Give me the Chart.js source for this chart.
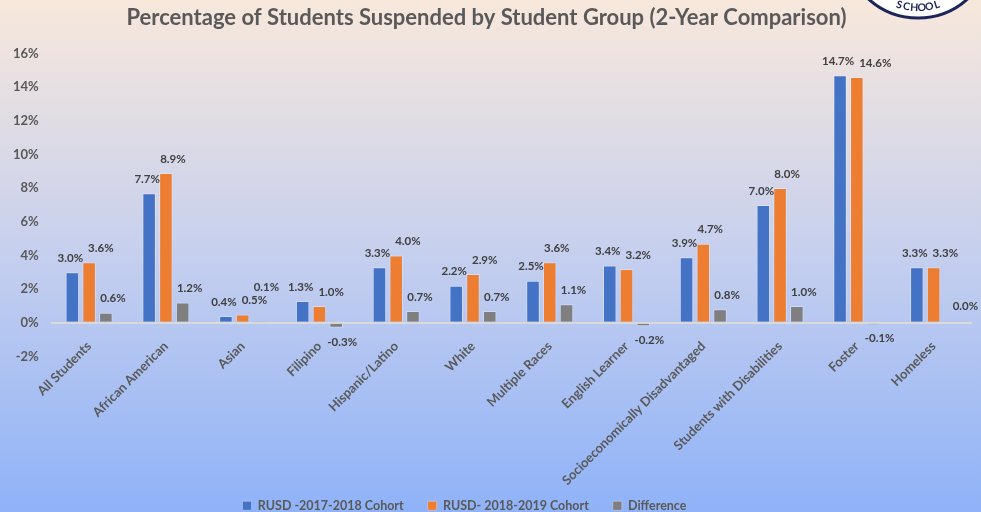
<!DOCTYPE html>
<html>
<head>
<meta charset="utf-8">
<script src="https://cdn.jsdelivr.net/npm/chart.js@4.4.1/dist/chart.umd.min.js"></script>
<style>
  html, body { margin: 0; padding: 0; }
  #wrap { width: 981px; height: 512px; position: relative; }
</style>
</head>
<body>
<div id="wrap"><canvas id="c"></canvas></div>
<script>
const titleText = 'Percentage of Students Suspended by Student Group (2-Year Comparison)';
const categories = ['All Students', 'African American', 'Asian', 'Filipino', 'Hispanic/Latino', 'White',
  'Multiple Races', 'English Learner', 'Socioeconomically Disadvantaged', 'Students with Disabilities',
  'Foster', 'Homeless'];
const seriesNames = ['RUSD -2017-2018 Cohort', 'RUSD- 2018-2019 Cohort', 'Difference'];
const cohort1718 = [3.0, 7.7, 0.4, 1.3, 3.3, 2.2, 2.5, 3.4, 3.9, 7.0, 14.7, 3.3];
const cohort1819 = [3.6, 8.9, 0.5, 1.0, 4.0, 2.9, 3.6, 3.2, 4.7, 8.0, 14.6, 3.3];
const difference = [0.6, 1.2, 0.1, -0.3, 0.7, 0.7, 1.1, -0.2, 0.8, 1.0, -0.1, 0.0];
const yMin = -2, yMax = 16, yStep = 2;
const logoText = 'SCHOOL';

const FONT = 'Lato';
const TXT = '#595959';

const bgPlugin = {
  id: 'bg',
  beforeDraw(chart) {
    const { ctx, width, height } = chart;
    const g = ctx.createLinearGradient(0, 0, 0, height);
    g.addColorStop(0, '#f8e8dc');
    g.addColorStop(0.5, '#c5cfee');
    g.addColorStop(1, '#8fb2f8');
    ctx.save();
    ctx.fillStyle = g;
    ctx.fillRect(0, 0, width, height);
    ctx.restore();
  }
};

const labelPlugin = {
  id: 'vlabels',
  afterDatasetsDraw(chart) {
    const { ctx } = chart;
    const dx = [-2, 7, 7];
    ctx.save();
    ctx.font = 'bold 11.5px ' + FONT;
    ctx.fillStyle = '#404040';
    ctx.textAlign = 'center';
    ctx.textBaseline = 'middle';
    const placed = {};
    chart.data.datasets.forEach((ds, i) => {
      const meta = chart.getDatasetMeta(i);
      meta.data.forEach((el, j) => {
        const v = ds.data[j];
        const txt = v.toFixed(1) + '%';
        const w = ctx.measureText(txt).width;
        let x = el.x + dx[i], y;
        if (v > 0) { y = el.y - 14; }
        else if (v < 0) { y = el.y + 14; x = el.x + 6; }
        else { y = el.y - 17; x = el.x + 15; }
        const list = placed[j] || (placed[j] = []);
        list.forEach(p => {
          if (Math.abs(p.y - y) < 12 && x - w / 2 < p.right + 5 && x + w / 2 > p.left) {
            const need = p.right + 5 + w / 2 - x;
            if (need <= 12) { x += need; } else { y = p.y - 13; }
          }
        });
        list.push({ y, left: x - w / 2, right: x + w / 2 });
        ctx.fillText(txt, x, y);
      });
    });
    ctx.restore();
  }
};

const logoPlugin = {
  id: 'logo',
  afterDraw(chart) {
    const { ctx } = chart;
    const cx = 918, cy = -56, r = 74;
    ctx.save();
    ctx.beginPath();
    ctx.arc(cx, cy, r, 0, Math.PI * 2);
    ctx.fillStyle = '#ffffff';
    ctx.fill();
    ctx.lineWidth = 3;
    ctx.strokeStyle = '#1c2559';
    ctx.stroke();
    ctx.font = 'bold 10.5px ' + FONT;
    ctx.fillStyle = '#1c2559';
    ctx.textAlign = 'center';
    ctx.textBaseline = 'alphabetic';
    const rt = 67;
    const step = 0.12;
    const n = logoText.length;
    for (let k = 0; k < n; k++) {
      const th = Math.PI / 2 + ((n - 1) / 2 - k) * step;
      ctx.save();
      ctx.translate(cx + rt * Math.cos(th), cy + rt * Math.sin(th));
      ctx.rotate(th - Math.PI / 2);
      ctx.fillText(logoText[k], 0, 0);
      ctx.restore();
    }
    ctx.restore();
  }
};

const legendShift = {
  id: 'legendShift',
  beforeDraw(chart) {
    const lg = chart.legend;
    if (lg && !lg._shifted) { lg.left -= 22; lg.right -= 22; lg._shifted = true; }
  },
  afterLayout(chart) { if (chart.legend) chart.legend._shifted = false; }
};

new Chart(document.getElementById('c'), {
  type: 'bar',
  data: {
    labels: categories,
    datasets: [
      { label: seriesNames[0], data: cohort1718, backgroundColor: '#4472c4', borderColor: 'rgba(255,255,255,0.3)', borderWidth: 1 },
      { label: seriesNames[1], data: cohort1819, backgroundColor: '#ed7d31', borderColor: 'rgba(255,255,255,0.3)', borderWidth: 1 },
      { label: seriesNames[2], data: difference, backgroundColor: '#7f7f7f', borderColor: 'rgba(255,255,255,0.3)', borderWidth: 1 }
    ]
  },
  options: {
    responsive: true,
    maintainAspectRatio: false,
    animation: false,
    datasets: { bar: { categoryPercentage: 0.655, barPercentage: 0.806 } },
    layout: { padding: { left: 1, right: 9, top: 0, bottom: -10 } },
    plugins: {
      tooltip: { enabled: false },
      title: {
        display: true,
        text: titleText,
        color: TXT,
        font: { family: FONT, size: 22, weight: 'bold' },
        padding: { top: 5, bottom: 22 }
      },
      legend: {
        position: 'bottom',
        labels: {
          boxWidth: 9,
          boxHeight: 9,
          padding: 24,
          color: TXT,
          font: { family: FONT, size: 12.5, weight: 'bold' }
        }
      }
    },
    scales: {
      x: {
        grid: { display: false, drawTicks: false },
        border: { display: false },
        ticks: {
          autoSkip: false,
          minRotation: 45,
          maxRotation: 45,
          padding: -18,
          color: TXT,
          font: { family: FONT, size: 13, weight: 'bold' }
        },
        afterFit(scale) {
          scale.height = 119;
          scale.paddingLeft = 0;
          scale.paddingRight = 0;
          scale._computeLabelArea = () => undefined;
        }
      },
      y: {
        min: yMin,
        max: yMax,
        ticks: {
          stepSize: yStep,
          padding: 12,
          color: TXT,
          font: { family: FONT, size: 13, weight: 'bold' },
          callback: v => v + '%'
        },
        grid: {
          drawTicks: false,
          color: c => (c.tick && c.tick.value === 0) ? '#d9d9d9' : 'rgba(0,0,0,0)',
          lineWidth: c => (c.tick && c.tick.value === 0) ? 2 : 0
        },
        border: { display: false }
      }
    }
  },
  plugins: [bgPlugin, labelPlugin, logoPlugin, legendShift]
});
</script>
</body>
</html>
